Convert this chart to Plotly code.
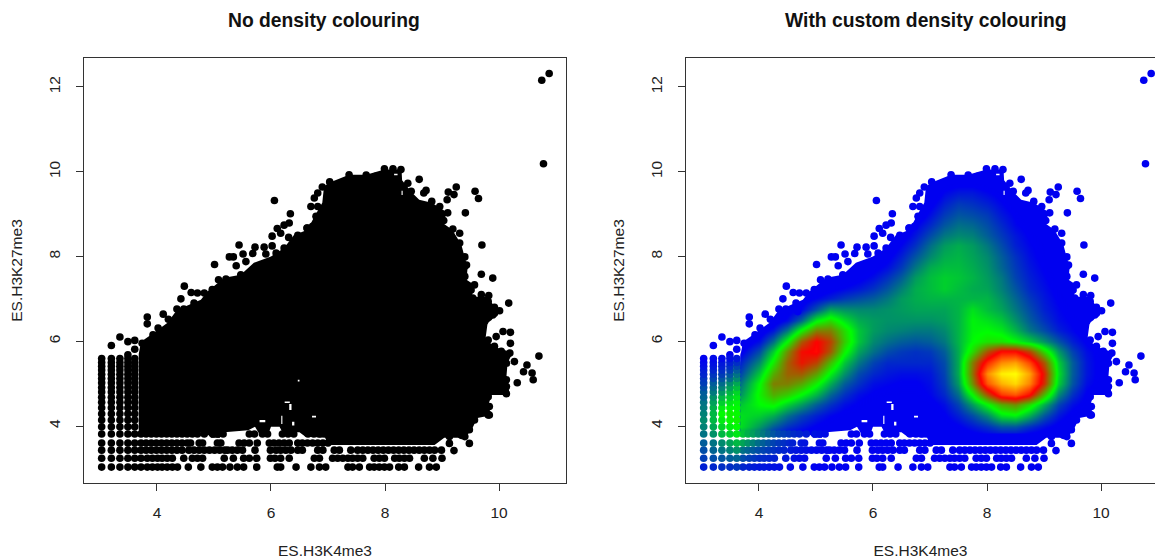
import numpy as np
import plotly.graph_objects as go

panel_titles = ["No density colouring", "With custom density colouring"]
x_name = "ES.H3K4me3"
y_name = "ES.H3K27me3"
x_ticks = [4, 6, 8, 10]
y_ticks = [4, 6, 8, 10, 12]

# Outline of the dense cloud of points
cloud_x = [3.68,3.68,3.72,3.89,4.18,4.35,4.77,4.88,5.18,5.47,5.7,6.0,6.23,6.4,6.64,6.76,6.9,6.93,7.02,7.37,7.67,7.99,8.29,8.3,8.48,8.6,8.82,9.1,9.0,9.18,9.34,9.4,9.45,9.43,9.57,9.52,9.8,9.98,9.87,9.8,9.76,9.98,10.24,10.15,10.13,10.19,9.87,9.8,9.89,9.62,9.52,9.4,9.04,8.87,7.0,6.95,6.6,6.5,6.2,6.15,6.0,5.95,5.8,5.72,5.6,5.18,5.1,4.95,4.85,3.68]
cloud_y = [3.86,5.7,5.99,6.15,6.43,6.74,6.98,7.17,7.5,7.57,7.85,8.0,8.2,8.5,8.63,8.94,9.27,9.65,9.74,9.93,9.93,10.05,10.05,9.8,9.5,9.34,9.27,9.03,8.8,8.63,8.28,7.97,7.76,7.45,7.33,7.05,7.05,6.7,6.5,6.43,6.03,5.84,5.73,5.49,5.16,4.73,4.73,4.45,4.26,4.19,3.91,3.72,3.72,3.55,3.55,3.72,3.75,3.85,3.85,3.98,3.98,3.8,3.8,3.98,3.9,3.85,3.72,3.72,3.85,3.86]

# Small white gaps inside the cloud: [x0, x1, y0, y1]
gap_1 = [6.24, 6.33, 4.54, 4.58]
gap_2 = [6.32, 6.36, 4.38, 4.52]
gap_3 = [6.18, 6.20, 4.05, 4.24]
gap_4 = [6.37, 6.41, 4.01, 4.10]
gap_5 = [6.72, 6.79, 4.20, 4.24]
gap_6 = [6.47, 6.50, 5.05, 5.09]
gap_7 = [5.80, 5.90, 4.09, 4.14]
gap_8 = [8.16, 8.22, 9.92, 9.95]
gap_9 = [8.29, 8.31, 9.45, 9.55]
gaps = [gap_1, gap_2, gap_3, gap_4, gap_5, gap_6, gap_7, gap_8, gap_9]

# Isolated points around the cloud
lone_x = [10.88,10.75,10.78,6.06,6.34,6.70,6.11,6.32,6.23,6.17,6.31,6.02,6.02,5.44,5.51,5.72,5.88,5.68,5.91,5.27,5.34,5.01,5.39,5.56,5.08,5.21,4.48,4.60,4.71,4.42,4.35,4.47,4.11,3.83,4.2,4.65,4.68,6.73,6.63,6.82,6.76,6.9,3.35,3.2,3.49,3.61,3.61,3.83,4.02,3.93,3.74,3.49,8.6,9.25,9.11,9.21,9.09,9.58,9.64,9.41,8.72,8.68,8.82,9.31,9.19,9.7,9.1,9.03,8.99,8.81,9.31,9.4,9.43,9.69,9.89,9.41,9.57,9.4,9.54,9.69,9.82,9.64,9.81,10.17,9.92,10.01,9.89,9.48,9.69,7.99,8.14,8.28,7.03,7.37,7.67,7.84,8.4,8.46,9.22,8.93,9.07,9.28,8.99,10.07,10.2,9.95,10.2,10.70,10.27,10.49,10.43,10.58,10.6,10.32,10.13,10.19,10.13,9.83,9.48,9.21,9.13,9.40,9.48,9.66,9.54]
lone_y = [12.32,12.16,10.19,9.32,9.01,9.18,8.66,8.79,8.74,8.55,8.45,8.48,8.25,8.27,8.06,8.22,8.22,8.07,8.06,7.99,7.99,7.81,7.78,7.88,7.45,7.47,7.3,7.15,7.14,7.0,6.76,6.76,6.64,6.57,6.52,6.9,6.7,8.71,8.67,9.5,9.38,9.64,6.1,5.9,5.99,6.02,5.81,6.41,6.31,6.15,5.95,5.68,9.82,9.64,9.52,9.46,9.34,9.54,9.37,9.03,9.56,9.5,9.3,8.55,8.65,8.27,9.03,8.85,8.55,8.67,8.32,7.99,7.8,7.58,7.49,7.21,7.33,7.53,7.02,7.1,7.08,6.86,6.94,6.9,6.8,6.72,6.62,6.7,6.58,10.07,10.07,10.05,9.76,9.93,9.92,9.89,9.73,9.54,8.0,8.08,7.84,7.77,8.4,6.23,6.21,6.11,5.95,5.65,5.52,5.44,5.28,5.25,5.09,5.02,4.76,5.72,4.93,4.26,3.59,3.42,3.59,3.75,3.91,6.35,6.43]

# Points that make up the ragged rim of the cloud
rim_x = [4.83,4.97,5.3,5.47,5.76,6.09,6.23,6.47,6.64,6.79,6.82,8.96,8.87,8.75,9.01,9.1,9.22,9.31,9.4,9.37,9.51,9.45,9.92,9.81,9.51,9.69,9.75,9.81,9.92,10.04,10.07,10.13,10.0,10.04,10.13,10.01,9.81,9.83,9.81,9.57,9.45,9.34,9.13]
rim_y = [7.14,7.22,7.41,7.57,7.77,8.08,8.2,8.5,8.67,8.95,9.18,9.18,9.1,9.03,8.51,8.4,8.2,8.0,7.77,7.57,7.21,6.98,6.66,6.58,6.74,6.39,6.47,6.03,5.88,5.76,5.56,5.48,5.4,5.21,5.09,4.97,4.69,4.46,4.26,4.14,3.95,3.78,3.75]

# Low, discretised values: five left-hand columns of points
column_x = [3.03, 3.20, 3.35, 3.49, 3.61]
column_y = [3.03,3.24,3.43,3.6,3.81,3.98,4.14,4.29,4.43,4.56,4.68,4.8,4.91,5.02,5.12,5.22,5.32,5.41,5.5,5.59]
column_density = [
    [4,8,10,12,15,17,18,17,16,15,13,12,10,8,7,5,4,2,1,0],
    [5,10,13,15,19,22,24,24,23,21,19,16,14,12,9,7,5,3,2,1],
    [6,11,15,18,24,28,31,33,31,27,24,20,17,14,11,8,6,4,3,1],
    [6,12,17,21,27,31,34,35,33,30,27,24,21,18,14,11,8,6,4,2],
    [7,13,19,24,30,33,35,34,33,32,30,28,25,22,18,15,12,9,6,3],
]

# Low, discretised values: bottom rows of points
row_levels = [3.03, 3.24, 3.43, 3.6, 3.81]
row_303 = [3.72,3.83,3.92,4.01,4.09,4.18,4.27,4.36,4.55,4.77,4.97,5.06,5.15,5.28,5.41,5.52,5.75,6.11,6.17,6.44,6.70,6.85,6.96,7.35,7.43,7.55,7.73,7.81,7.90,7.99,8.08,8.24,8.34,8.59,8.78,8.90]
row_324 = [3.72,3.83,3.92,4.01,4.09,4.18,4.27,4.47,4.62,4.71,4.80,5.18,5.34,5.52,5.62,5.75,5.99,6.07,6.17,6.32,6.76,6.85,7.08,7.17,7.26,7.35,7.43,7.52,7.61,7.81,7.90,7.99,8.17,8.25,8.34,8.43,8.69,8.84,9.0]
row_343 = [3.72,3.81,3.90,3.99,4.08,4.17,4.26,4.35,4.44,4.56,4.65,4.74,4.83,4.92,5.01,5.10,5.19,5.24,5.32,5.41,5.50,5.72,5.99,6.09,6.17,6.26,6.35,6.47,6.55,6.82,6.91,7.11,7.2,7.40,7.52,7.61,7.7,7.79,7.88,7.97,8.06,8.15,8.24,8.33,8.42,8.51,8.6,8.69,8.78,8.87,8.99]
row_360 = [3.72,3.81,3.90,3.99,4.08,4.17,4.26,4.35,4.44,4.53,4.59,4.74,4.80,5.06,5.12,5.44,5.53,5.62,5.76,5.97,6.05,6.14,6.23,6.32,6.47,6.55,6.64,6.73,6.82,6.91,7.0]
row_381 = [3.72,3.81,3.90,3.99,4.08,4.17,4.26,4.35,4.44,4.53,4.62,4.71,4.83,4.98,5.07,5.16,5.62,5.71,5.85,5.94,6.2,6.3,6.4,6.65,6.75,6.85]
row_points = [row_303, row_324, row_343, row_360, row_381]
row_knots = [3.7, 4.0, 4.3, 4.6, 5.0, 5.5]
row_density = [
    [5,3,2,1,0,0],
    [10,6,4,2,0,0],
    [15,10,6,3,1,0],
    [22,14,8,4,1,0],
    [26,18,10,6,2,0],
]

# Colour position (0 blue, 33 green, 67 red, 100 yellow)
density_x = [3.68,4.0,4.25,4.5,4.75,5.0,5.25,5.5,5.75,6.0,6.25,6.5,6.75,7.0,7.25,7.5,7.75,8.0,8.25,8.5,8.75,9.0,9.25,9.5,9.75,10.0,10.25,10.5]
density_y = [9.75,9.5,9.25,9.0,8.75,8.5,8.25,8.0,7.75,7.5,7.25,7.0,6.75,6.5,6.25,6.0,5.75,5.5,5.25,5.0,4.75,4.5,4.25,4.0,3.86]
density = [
    [0,0,0,0,0,0,0,0,0,0,0,0,0,0,2,3,3,2,0,0,0,0,0,0,0,0,0,0],
    [0,0,0,0,0,0,0,0,0,0,0,0,0,0,5,7,7,5,3,0,0,0,0,0,0,0,0,0],
    [0,0,0,0,0,0,0,0,0,0,0,0,0,3,8,11,10,8,5,2,0,0,0,0,0,0,0,0],
    [0,0,0,0,0,0,0,0,0,0,0,0,0,6,11,14,13,11,7,4,1,0,0,0,0,0,0,0],
    [0,0,0,0,0,0,0,0,0,0,0,0,4,9,14,17,16,13,9,5,3,0,0,0,0,0,0,0],
    [0,0,0,0,0,0,0,0,0,0,0,2,7,13,18,20,19,15,11,7,4,2,0,0,0,0,0,0],
    [0,0,0,0,0,0,0,0,0,0,0,5,10,17,22,24,22,18,13,8,5,3,1,0,0,0,0,0],
    [0,0,0,0,0,0,0,0,0,0,3,8,14,20,24,25,23,20,15,10,6,3,1,0,0,0,0,0],
    [0,0,0,0,0,0,0,0,0,3,6,11,18,24,26,26,24,21,16,11,7,4,2,0,0,0,0,0],
    [0,0,0,0,0,0,0,1,3,6,10,15,22,26,28,27,25,22,18,12,8,5,2,0,0,0,0,0],
    [0,0,0,0,0,1,3,5,7,10,14,19,24,26,28,26,24,23,19,14,9,6,3,1,0,0,0,0],
    [0,0,0,0,2,5,8,11,13,15,18,22,24,25,25,25,25,25,21,16,11,7,4,2,0,0,0,0],
    [0,0,0,2,5,14,23,21,20,20,21,22,23,23,23,25,30,26,23,18,13,8,5,3,1,0,0,0],
    [0,0,1,6,16,32,38,30,24,22,21,21,21,21,22,25,32,30,27,21,15,10,6,4,2,0,0,0],
    [0,1,7,18,35,50,50,38,27,22,20,19,18,18,20,25,32,33,31,25,18,13,8,5,2,0,0,0],
    [0,6,17,34,55,67,58,40,27,20,17,15,14,15,18,25,33,37,37,33,28,21,14,8,4,1,0,0],
    [3,13,28,48,65,68,55,35,23,17,13,11,10,11,15,24,38,56,68,68,58,38,22,12,6,3,0,0],
    [8,20,36,54,64,58,42,27,18,12,9,9,9,9,13,24,50,72,85,88,76,55,28,15,7,3,1,0],
    [12,27,44,54,55,46,32,21,13,9,7,6,6,7,12,24,52,85,98,100,88,62,30,15,7,3,1,0],
    [17,33,50,50,45,35,24,15,10,6,5,4,4,6,11,22,48,78,90,95,84,60,28,14,6,3,0,0],
    [21,35,44,40,33,25,16,10,6,4,3,3,3,5,9,17,34,56,74,78,68,42,20,10,4,1,0,0],
    [27,33,35,28,22,15,10,6,4,2,2,2,2,3,6,12,22,33,44,48,38,24,12,6,3,0,0,0],
    [30,28,24,17,12,8,5,3,2,1,1,1,1,2,4,8,13,20,30,32,24,14,7,3,1,0,0,0],
    [30,22,15,10,7,4,2,1,1,1,1,1,1,1,2,4,7,10,14,14,10,6,3,1,0,0,0,0],
    [25,17,10,6,4,2,0,0,0,0,0,0,0,0,0,2,4,6,8,8,5,3,1,0,0,0,0,0],
]

DARK = "#000000"
BLUE = "#0000F0"
FONT = "Liberation Sans"
scale = [[0, "rgba(0,0,240,0)"], [0.03, "rgba(0,0,240,0)"], [0.045, "rgba(0,0,240,1)"], [1/3, "rgb(0,255,0)"],
         [2/3, "rgb(255,0,0)"], [1, "rgb(255,255,0)"]]
dot_scale = [[0, "rgb(0,0,240)"], [1/3, "rgb(0,255,0)"], [2/3, "rgb(255,0,0)"], [1, "rgb(255,255,0)"]]
DOT = 7.6

col_px = np.repeat(column_x, len(column_y))
col_py = np.tile(column_y, len(column_x))
col_pc = np.array(column_density).ravel()
row_px = np.concatenate(row_points)
row_py = np.concatenate([[lv] * len(r) for lv, r in zip(row_levels, row_points)])
row_pc = np.concatenate([np.interp(r, row_knots, d) for r, d in zip(row_points, row_density)])

grid = np.array(density[::-1], dtype=float)
grid = np.pad(grid, ((1, 1), (1, 0)))
grid_x = [density_x[0] - 0.04] + density_x
ys = density_y[::-1]
grid_y = [ys[0] - 0.04] + ys + [ys[-1] + 0.25]

cloud_path = "M " + " L ".join("%g %g" % p for p in zip(cloud_x, cloud_y)) + " Z"
for x0, x1, y0, y1 in gaps:
    cloud_path += " M %g %g L %g %g L %g %g L %g %g Z" % (x0, y0, x1, y0, x1, y1, x0, y1)

fig = go.Figure()
for i, (xa, ya) in enumerate([("x", "y"), ("x2", "y2")]):
    colour = DARK if i == 0 else BLUE
    fig.add_shape(type="path", path=cloud_path, xref=xa, yref=ya, layer="below",
                  fillcolor=colour, line=dict(color=colour, width=0))
    if i == 1:
        fig.add_trace(go.Heatmap(x=grid_x, y=grid_y, z=grid, zmin=0, zmax=100, colorscale=scale,
                                 zsmooth="best", showscale=False, hoverinfo="skip", xaxis=xa, yaxis=ya))
    fig.add_trace(go.Scatter(x=lone_x + rim_x, y=lone_y + rim_y, mode="markers", marker=dict(size=DOT, color=colour),
                             hoverinfo="skip", xaxis=xa, yaxis=ya))
    for px, py, pc in [(row_px, row_py, row_pc), (col_px, col_py, col_pc)]:
        m = dict(size=DOT, color=colour) if i == 0 else dict(size=DOT, color=pc, cmin=0, cmax=100, colorscale=dot_scale)
        fig.add_trace(go.Scatter(x=px, y=py, mode="markers", marker=m, hoverinfo="skip", xaxis=xa, yaxis=ya))

W, H = 1155, 560
TEXT = dict(family=FONT, size=15.5, color="#222222")
common_x = dict(range=[2.72, 11.175], tickmode="array", tickvals=x_ticks, ticks="outside", ticklen=7,
                tickcolor="#333333", showgrid=False, zeroline=False, showline=True, linecolor="#333333",
                linewidth=1, mirror=True, ticklabelstandoff=8, tickfont=TEXT,
                title=dict(text=x_name, standoff=25, font=TEXT))
common_y = dict(range=[2.655, 12.684], tickmode="array", tickvals=y_ticks, ticks="outside", ticklen=7,
                tickcolor="#333333", showgrid=False, zeroline=False, showline=True, linecolor="#333333",
                linewidth=1, tickangle=-90, ticklabelstandoff=10, tickfont=TEXT,
                title=dict(text=y_name, standoff=19, font=TEXT),
                domain=[1 - 483 / H, 1 - 58 / H])
fig.update_layout(
    width=W, height=H, margin=dict(l=0, r=0, t=0, b=0), paper_bgcolor="white", plot_bgcolor="white",
    showlegend=False,
    xaxis=dict(common_x, domain=[84 / W, 566 / W]),
    xaxis2=dict(common_x, domain=[686 / W, 1], range=[2.72, 10.947], anchor="y2"),
    yaxis=dict(common_y, mirror=True),
    yaxis2=dict(common_y, anchor="x2", mirror=False),
    annotations=[
        dict(text="<b>%s</b>" % panel_titles[0], x=324 / W, y=1 - 21 / H, xref="paper", yref="paper",
             xanchor="center", yanchor="middle", showarrow=False, font=dict(family=FONT, size=19.3, color="#111111")),
        dict(text="<b>%s</b>" % panel_titles[1], x=926 / W, y=1 - 21 / H, xref="paper", yref="paper",
             xanchor="center", yanchor="middle", showarrow=False, font=dict(family=FONT, size=19.3, color="#111111")),
    ],
)
fig.write_html("out.html", config=dict(displayModeBar=False),
               post_script="document.body.style.margin='0';document.body.style.overflow='hidden';")
